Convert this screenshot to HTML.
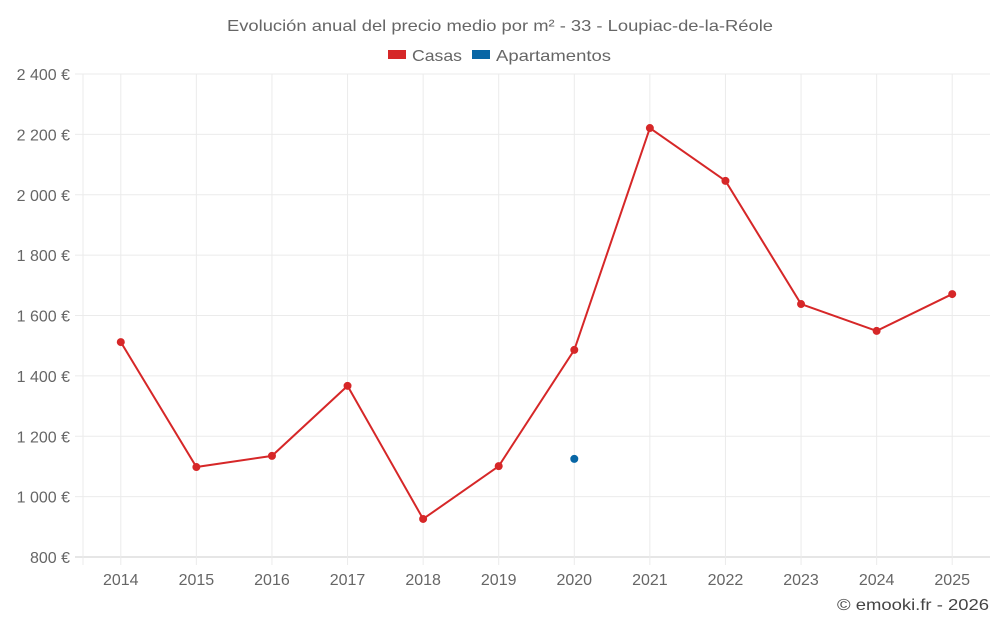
<!DOCTYPE html>
<html><head><meta charset="utf-8"><style>
body{margin:0;background:#fff;font-family:"Liberation Sans",Roboto,sans-serif;}
svg text{font-family:"Liberation Sans",sans-serif;fill:#666;}
</style></head><body>
<svg id="chart" width="1000" height="625" viewBox="0 0 1000 625" xmlns="http://www.w3.org/2000/svg">
<text x="227" y="31" font-size="16" textLength="546" lengthAdjust="spacingAndGlyphs">Evolución anual del precio medio por m² - 33 - Loupiac-de-la-Réole</text>
<g>
<g><rect x="388" y="50" width="18" height="9" fill="#d62728"/><text x="412" y="61" font-size="16" textLength="50" lengthAdjust="spacingAndGlyphs">Casas</text></g>
<g><rect x="472" y="50" width="18" height="9" fill="#0866a5"/><text x="496" y="61" font-size="16" textLength="115" lengthAdjust="spacingAndGlyphs">Apartamentos</text></g>
</g>
<g id="grid"></g><g id="axes"></g><g id="series"></g>
<text x="837" y="610" font-size="16" textLength="152" lengthAdjust="spacingAndGlyphs" style="fill:#444">© emooki.fr - 2026</text>
</svg>
<script>
const years=["2014","2015","2016","2017","2018","2019","2020","2021","2022","2023","2024","2025"];
const casas=[1512,1098,1135,1367,926,1101,1486,2221,2046,1638,1549,1671];
const apartamentos=[null,null,null,null,null,null,1125,null,null,null,null,null];
const yTicks=[800,1000,1200,1400,1600,1800,2000,2200,2400];
const yLabels=["800 €","1 000 €","1 200 €","1 400 €","1 600 €","1 800 €","2 000 €","2 200 €","2 400 €"];
const NS="http://www.w3.org/2000/svg";
const L=83,R=990,T=74,B=557,yMin=800,yMax=2400;
const step=(R-L)/years.length;
function x(i){return L+step*(i+0.5);}
function y(v){return B-(v-yMin)/(yMax-yMin)*(B-T);}
function mk(tag,attrs,parent){const e=document.createElementNS(NS,tag);for(const k in attrs)e.setAttribute(k,attrs[k]);parent.appendChild(e);return e;}
const grid=document.getElementById('grid'),axes=document.getElementById('axes'),ser=document.getElementById('series');
yTicks.forEach((t,i)=>{
 const l=mk('line',{x1:L-8,x2:R,y1:y(t),y2:y(t),stroke:i==0?'#ccc':'#ebebeb'},grid);
 
 
 const tx=mk('text',{x:70,y:y(t)+6,'text-anchor':'end','font-size':'16'},axes);
 tx.textContent=yLabels[i];
 
 
});
mk('line',{x1:L,x2:L,y1:T,y2:B+8,stroke:'#ebebeb'},grid);
years.forEach((yr,i)=>{
 const l=mk('line',{x1:x(i),x2:x(i),y1:T,y2:B+8,stroke:'#ebebeb'},grid);
 
 
 const tx=mk('text',{x:x(i),y:585,'text-anchor':'middle','font-size':'16'},axes);
 tx.textContent=yr;
 
 
});
let d='';casas.forEach((v,i)=>{if(v!=null)d+=(d?'L':'M')+x(i)+','+y(v);});
const p=mk('path',{d:d,fill:'none',stroke:'#d62728','stroke-width':2},ser);


casas.forEach((v,i)=>{if(v==null)return;
 const c=mk('circle',{cx:x(i),cy:y(v),r:4,fill:'#d62728'},ser);
 
 
});
apartamentos.forEach((v,i)=>{if(v==null)return;
 const c=mk('circle',{cx:x(i),cy:y(v),r:4,fill:'#0866a5'},ser);
 
 
});
</script>
</body></html>
